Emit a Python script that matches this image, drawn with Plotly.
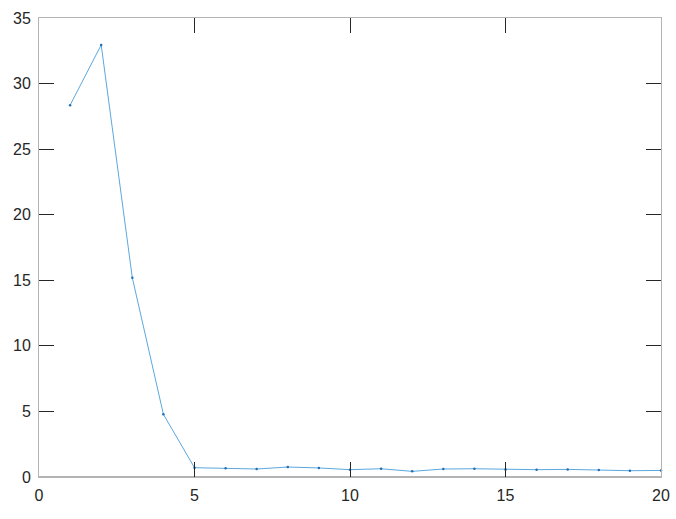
import plotly.graph_objects as go

x_vals = list(range(1, 21))
y_vals = [28.35, 32.95, 15.2, 4.78, 0.71, 0.66, 0.61, 0.76, 0.69, 0.56,
          0.63, 0.43, 0.61, 0.63, 0.58, 0.56, 0.58, 0.53, 0.48, 0.50]
x_ticks = [0, 5, 10, 15, 20]
y_ticks = [0, 5, 10, 15, 20, 25, 30, 35]

fig = go.Figure()
fig.add_trace(go.Scatter(
    x=x_vals, y=y_vals, mode="lines+markers",
    line=dict(color="#5ba8de", width=1),
    marker=dict(color="#1f6fb4", size=2.5),
    showlegend=False, cliponaxis=False,
))

axis_common = dict(
    showgrid=False, zeroline=False, showline=True, linecolor="#b4b4b4",
    linewidth=1, mirror="ticks", ticks="inside", ticklen=15, tickwidth=1,
    tickcolor="#262626", automargin=False,
    tickfont=dict(family="Liberation Sans, Arial", size=16, color="#262626"),
)

fig.update_xaxes(range=[0, 20], tickvals=x_ticks, ticklabelstandoff=4, **axis_common)
fig.update_yaxes(range=[0, 35], tickvals=y_ticks, ticklabelstandoff=4, **axis_common)

# slightly heavier bottom axis line as in the reference
fig.add_shape(type="line", xref="paper", yref="paper", x0=0, x1=1, y0=0, y1=0,
              line=dict(color="#b4b4b4", width=2), layer="below")

fig.update_layout(
    width=676, height=519,
    margin=dict(l=39, r=15, t=18, b=42, pad=0),
    plot_bgcolor="white", paper_bgcolor="white",
)

fig.write_html("out.html", config={"displayModeBar": False},
               post_script="document.body.style.margin='0';")
